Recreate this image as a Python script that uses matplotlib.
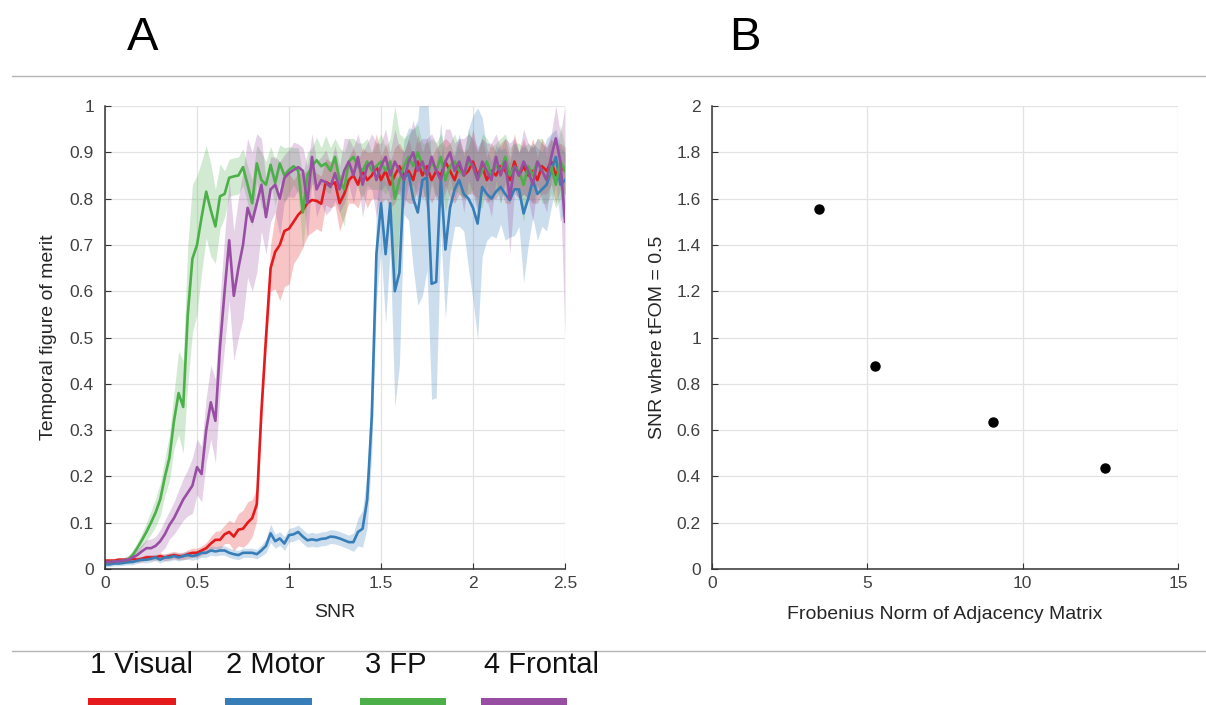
import matplotlib.pyplot as plt
import numpy as np
from matplotlib.patches import Rectangle
from matplotlib.lines import Line2D
from matplotlib.ticker import FuncFormatter

plt.rcParams['font.family'] = ['Liberation Sans', 'DejaVu Sans']

# -- Panel A data: tFOM vs SNR (mean and half-width of the shaded band)
snr = np.linspace(0, 2.5, 101)

visual_mean = [
    0.018, 0.018, 0.018, 0.020, 0.020, 0.020, 0.022, 0.020, 0.022, 0.025,
    0.025, 0.025, 0.028, 0.025, 0.028, 0.030, 0.028, 0.028, 0.032, 0.035,
    0.035, 0.040, 0.045, 0.055, 0.063, 0.063, 0.075, 0.080, 0.070, 0.085,
    0.087, 0.100, 0.110, 0.140, 0.340, 0.500, 0.650, 0.685, 0.700, 0.730,
    0.735, 0.750, 0.765, 0.775, 0.790, 0.797, 0.795, 0.789, 0.836, 0.830,
    0.835, 0.790, 0.810, 0.840, 0.850, 0.830, 0.860, 0.840, 0.850, 0.870,
    0.840, 0.860, 0.830, 0.850, 0.870, 0.850, 0.860, 0.840, 0.880, 0.850,
    0.870, 0.840, 0.860, 0.850, 0.880, 0.860, 0.840, 0.870, 0.850, 0.860,
    0.880, 0.850, 0.870, 0.840, 0.860, 0.850, 0.870, 0.860, 0.840, 0.880,
    0.850, 0.870, 0.850, 0.860, 0.840, 0.870, 0.860, 0.880, 0.850, 0.870,
    0.860]
visual_sd = [
    0.005, 0.005, 0.005, 0.005, 0.005, 0.005, 0.005, 0.006, 0.006, 0.006,
    0.006, 0.006, 0.007, 0.007, 0.008, 0.008, 0.008, 0.008, 0.009, 0.010,
    0.010, 0.010, 0.012, 0.015, 0.018, 0.020, 0.020, 0.025, 0.030, 0.035,
    0.040, 0.045, 0.040, 0.035, 0.030, 0.030, 0.050, 0.080, 0.120, 0.120,
    0.120, 0.090, 0.090, 0.080, 0.070, 0.070, 0.060, 0.060, 0.050, 0.050,
    0.050, 0.060, 0.050, 0.050, 0.060, 0.050, 0.050, 0.060, 0.050, 0.070,
    0.050, 0.060, 0.050, 0.060, 0.050, 0.050, 0.070, 0.050, 0.060, 0.050,
    0.060, 0.050, 0.050, 0.070, 0.050, 0.060, 0.050, 0.060, 0.050, 0.050,
    0.070, 0.050, 0.060, 0.050, 0.060, 0.050, 0.050, 0.070, 0.050, 0.060,
    0.050, 0.060, 0.050, 0.070, 0.050, 0.060, 0.050, 0.050, 0.060, 0.050,
    0.050]

motor_mean = [
    0.010, 0.010, 0.012, 0.012, 0.013, 0.015, 0.015, 0.018, 0.020, 0.020,
    0.022, 0.025, 0.020, 0.025, 0.025, 0.028, 0.025, 0.028, 0.030, 0.028,
    0.030, 0.035, 0.035, 0.040, 0.038, 0.040, 0.040, 0.035, 0.032, 0.030,
    0.035, 0.035, 0.035, 0.032, 0.040, 0.050, 0.077, 0.060, 0.066, 0.055,
    0.073, 0.075, 0.080, 0.070, 0.062, 0.064, 0.062, 0.065, 0.066, 0.070,
    0.069, 0.066, 0.062, 0.058, 0.058, 0.080, 0.087, 0.150, 0.330, 0.680,
    0.790, 0.680, 0.790, 0.600, 0.640, 0.846, 0.853, 0.800, 0.770, 0.840,
    0.846, 0.616, 0.620, 0.846, 0.690, 0.780, 0.820, 0.840, 0.810, 0.800,
    0.780, 0.746, 0.825, 0.810, 0.800, 0.815, 0.825, 0.810, 0.797, 0.820,
    0.820, 0.768, 0.800, 0.840, 0.810, 0.820, 0.830, 0.860, 0.890, 0.830,
    0.840]
motor_sd = [
    0.005, 0.005, 0.005, 0.005, 0.005, 0.006, 0.006, 0.006, 0.006, 0.007,
    0.007, 0.007, 0.007, 0.008, 0.008, 0.008, 0.008, 0.008, 0.009, 0.009,
    0.009, 0.010, 0.010, 0.010, 0.010, 0.010, 0.010, 0.010, 0.010, 0.010,
    0.010, 0.010, 0.010, 0.010, 0.012, 0.015, 0.020, 0.015, 0.015, 0.015,
    0.015, 0.015, 0.015, 0.015, 0.015, 0.015, 0.015, 0.015, 0.015, 0.015,
    0.015, 0.015, 0.015, 0.015, 0.020, 0.030, 0.040, 0.060, 0.080, 0.100,
    0.100, 0.150, 0.100, 0.250, 0.200, 0.080, 0.100, 0.150, 0.200, 0.250,
    0.200, 0.250, 0.250, 0.120, 0.150, 0.100, 0.080, 0.100, 0.080, 0.150,
    0.200, 0.250, 0.150, 0.100, 0.080, 0.100, 0.080, 0.100, 0.080, 0.100,
    0.080, 0.150, 0.100, 0.080, 0.100, 0.080, 0.100, 0.080, 0.060, 0.080,
    0.060]

fp_mean = [
    0.015, 0.015, 0.016, 0.017, 0.018, 0.020, 0.030, 0.045, 0.062, 0.080,
    0.100, 0.122, 0.150, 0.198, 0.240, 0.320, 0.380, 0.350, 0.550, 0.670,
    0.700, 0.760, 0.815, 0.775, 0.740, 0.805, 0.810, 0.845, 0.848, 0.850,
    0.868, 0.830, 0.790, 0.876, 0.840, 0.830, 0.873, 0.834, 0.876, 0.850,
    0.862, 0.870, 0.860, 0.770, 0.850, 0.870, 0.883, 0.870, 0.876, 0.860,
    0.890, 0.840, 0.820, 0.880, 0.890, 0.870, 0.860, 0.880, 0.860, 0.870,
    0.880, 0.860, 0.880, 0.800, 0.840, 0.870, 0.890, 0.870, 0.900, 0.870,
    0.850, 0.880, 0.860, 0.890, 0.840, 0.870, 0.880, 0.860, 0.850, 0.880,
    0.870, 0.840, 0.860, 0.880, 0.850, 0.870, 0.860, 0.890, 0.850, 0.870,
    0.860, 0.830, 0.870, 0.850, 0.880, 0.860, 0.840, 0.870, 0.830, 0.880,
    0.860]
fp_sd = [
    0.006, 0.006, 0.006, 0.006, 0.006, 0.008, 0.010, 0.012, 0.015, 0.020,
    0.025, 0.030, 0.035, 0.040, 0.050, 0.060, 0.090, 0.100, 0.150, 0.160,
    0.150, 0.120, 0.100, 0.100, 0.080, 0.070, 0.050, 0.040, 0.040, 0.040,
    0.040, 0.040, 0.050, 0.040, 0.060, 0.050, 0.040, 0.050, 0.040, 0.060,
    0.050, 0.040, 0.050, 0.080, 0.050, 0.040, 0.050, 0.040, 0.060, 0.050,
    0.040, 0.070, 0.080, 0.050, 0.040, 0.050, 0.060, 0.050, 0.040, 0.050,
    0.060, 0.050, 0.050, 0.200, 0.100, 0.060, 0.050, 0.080, 0.060, 0.050,
    0.070, 0.050, 0.060, 0.050, 0.070, 0.050, 0.060, 0.050, 0.050, 0.070,
    0.050, 0.060, 0.080, 0.050, 0.060, 0.050, 0.070, 0.050, 0.060, 0.050,
    0.060, 0.080, 0.050, 0.060, 0.050, 0.070, 0.050, 0.060, 0.050, 0.080,
    0.050]

frontal_mean = [
    0.015, 0.015, 0.016, 0.017, 0.018, 0.020, 0.025, 0.030, 0.038, 0.045,
    0.045, 0.050, 0.060, 0.075, 0.095, 0.110, 0.130, 0.150, 0.165, 0.180,
    0.220, 0.205, 0.300, 0.360, 0.320, 0.480, 0.600, 0.710, 0.590, 0.650,
    0.700, 0.780, 0.750, 0.790, 0.830, 0.760, 0.820, 0.830, 0.800, 0.845,
    0.855, 0.862, 0.868, 0.860, 0.790, 0.890, 0.820, 0.840, 0.835, 0.825,
    0.855, 0.820, 0.860, 0.880, 0.850, 0.890, 0.830, 0.870, 0.880, 0.840,
    0.870, 0.890, 0.850, 0.880, 0.860, 0.840, 0.880, 0.900, 0.860, 0.880,
    0.850, 0.890, 0.860, 0.840, 0.880, 0.900, 0.860, 0.880, 0.850, 0.890,
    0.870, 0.840, 0.880, 0.860, 0.840, 0.890, 0.850, 0.880, 0.800, 0.870,
    0.850, 0.880, 0.860, 0.830, 0.880, 0.860, 0.840, 0.890, 0.930, 0.880,
    0.750]
frontal_sd = [
    0.005, 0.005, 0.005, 0.006, 0.006, 0.008, 0.010, 0.012, 0.015, 0.018,
    0.020, 0.020, 0.025, 0.030, 0.030, 0.035, 0.040, 0.045, 0.050, 0.060,
    0.060, 0.060, 0.070, 0.080, 0.090, 0.100, 0.120, 0.130, 0.140, 0.150,
    0.160, 0.150, 0.150, 0.150, 0.100, 0.080, 0.070, 0.060, 0.080, 0.050,
    0.050, 0.060, 0.050, 0.050, 0.080, 0.050, 0.060, 0.050, 0.070, 0.050,
    0.060, 0.050, 0.070, 0.050, 0.060, 0.050, 0.070, 0.050, 0.060, 0.080,
    0.050, 0.060, 0.050, 0.070, 0.050, 0.060, 0.050, 0.070, 0.060, 0.050,
    0.080, 0.050, 0.060, 0.050, 0.070, 0.050, 0.060, 0.050, 0.080, 0.050,
    0.060, 0.070, 0.050, 0.060, 0.080, 0.050, 0.060, 0.050, 0.120, 0.060,
    0.050, 0.070, 0.060, 0.080, 0.050, 0.060, 0.070, 0.050, 0.070, 0.060,
    0.250]

labels = ['1 Visual', '2 Motor', '3 FP', '4 Frontal']
colors = ['#e41a1c', '#377eb8', '#4daf4a', '#984ea3']
means = [visual_mean, motor_mean, fp_mean, frontal_mean]
sds = [visual_sd, motor_sd, fp_sd, frontal_sd]

# -- Panel B data
frob_norm = [3.43, 5.25, 9.04, 12.64]
snr_half = [1.557, 0.879, 0.637, 0.435]

W, H = 1206, 705
fig = plt.figure(figsize=(W / 100, H / 100), dpi=100)

ax1 = fig.add_axes([105 / W, 1 - 569 / H, 460 / W, 463 / H])
ax2 = fig.add_axes([712 / W, 1 - 569 / H, 466 / W, 463 / H])

gfmt = FuncFormatter(lambda v, p: '%g' % round(v, 3))


def style(ax):
    ax.grid(True, color='#e3e3e3', lw=0.9)
    ax.set_axisbelow(True)
    for s in ['top', 'right']:
        ax.spines[s].set_visible(False)
    for s in ['left', 'bottom']:
        ax.spines[s].set_color('#333333')
        ax.spines[s].set_linewidth(1.1)
    ax.tick_params(direction='in', length=4, width=0.8, color='#333333',
                   labelsize=12.5, labelcolor='#404040')
    ax.tick_params(axis='y', pad=8)
    ax.tick_params(axis='x', pad=5)
    ax.xaxis.set_major_formatter(gfmt)
    ax.yaxis.set_major_formatter(gfmt)


# shaded bands
for m, s, c in zip(means, sds, colors):
    m = np.array(m)
    s = np.array(s)
    ax1.fill_between(snr, m - s, m + s, color=c, alpha=0.25, lw=0)
for m, c in zip(means, colors):
    ax1.plot(snr, m, color=c, lw=1.9)

ax1.set_xlim(0, 2.5)
ax1.set_ylim(0, 1)
ax1.set_xticks([0, 0.5, 1, 1.5, 2, 2.5])
ax1.set_yticks(np.arange(0, 1.01, 0.1))
style(ax1)
ax1.set_xlabel('SNR', fontsize=14, color='#262626')
ax1.set_ylabel('Temporal figure of merit', fontsize=14, color='#262626')
ax1.xaxis.set_label_coords(0.5, -0.076)
ax1.yaxis.set_label_coords(-0.105, 0.5)

ax2.plot(frob_norm, snr_half, 'o', color='black', ms=6.5)
ax2.set_xlim(0, 15)
ax2.set_ylim(0, 2)
ax2.set_xticks([0, 5, 10, 15])
ax2.set_yticks(np.arange(0, 2.01, 0.2))
style(ax2)
ax2.set_xlabel('Frobenius Norm of Adjacency Matrix', fontsize=14, color='#262626')
ax2.set_ylabel('SNR where tFOM = 0.5', fontsize=14, color='#262626')
ax2.xaxis.set_label_coords(0.5, -0.08)
ax2.yaxis.set_label_coords(-0.098, 0.5)

# -- panel letters and separators
fig.text(143 / W, 1 - 38 / H, 'A', fontsize=34, ha='center', va='center')
fig.text(745 / W, 1 - 38 / H, 'B', fontsize=34, ha='center', va='center')
for yy in [76, 651]:
    fig.add_artist(Line2D([12 / W, 1], [1 - yy / H] * 2, transform=fig.transFigure,
                          color='#b5b5b5', lw=1))

# -- legend under the figure
leg_x = [141, 276, 396, 541]
bar_x = [(88, 176), (225, 312), (360, 446), (481, 567)]
for lab, c, xc, (b0, b1) in zip(labels, colors, leg_x, bar_x):
    fig.text(xc / W, 1 - 665 / H, lab, fontsize=21, ha='center', va='center',
             family=['Liberation Sans Narrow', 'Liberation Sans'], color='#111111')
    fig.add_artist(Rectangle((b0 / W, -0.01), (b1 - b0) / W, 7 / H + 0.01,
                             transform=fig.transFigure, color=c, lw=0))

fig.savefig('out.png', dpi=100)
